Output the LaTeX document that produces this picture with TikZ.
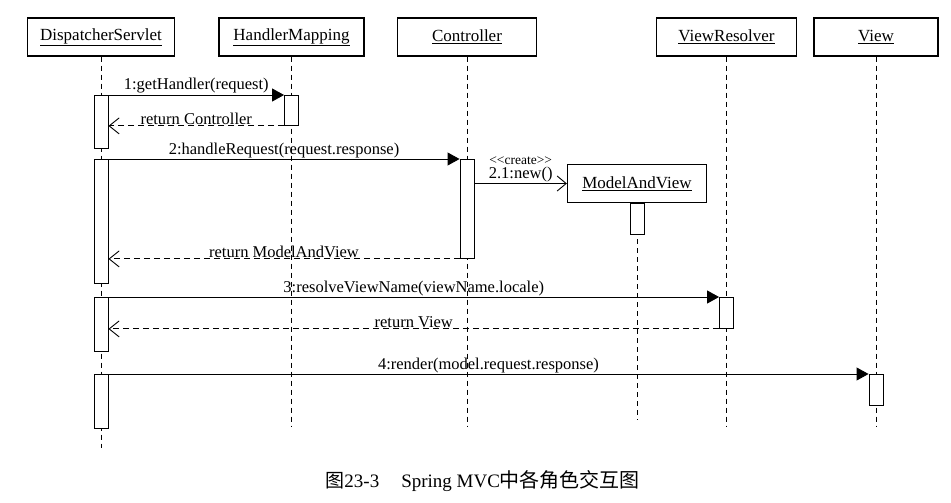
\documentclass[tikz,border=0pt]{standalone}
\usepackage{fontspec}
\setmainfont{Liberation Serif}
\newfontfamily\cjk{Noto Sans CJK SC}
\usetikzlibrary{positioning,arrows.meta}

\begin{document}
\begin{tikzpicture}[x=1pt, y=-1pt, line width=0.9pt, font=\fontsize{16.5}{18}\selectfont,
  obj/.style={draw, line width=1.3pt, minimum height=38pt, inner sep=0pt, font=\fontsize{17}{18}\selectfont},
  act/.style={draw, fill=white, minimum width=14pt, inner sep=0pt, anchor=north},
  life/.style={dash pattern=on 5pt off 4pt},
  call/.style={-{Triangle[length=12pt,width=13pt]}},
  ret/.style={dash pattern=on 6pt off 4pt, -{Straight Barb[length=10pt,width=16pt]}},
  newobj/.style={-{Straight Barb[length=9pt,width=15pt]}},
  msg/.style={above, inner sep=1pt}]
	\useasboundingbox (0,0) rectangle (951,503);
	% objects
	\node[obj, minimum width=147pt] (disp) at (101,37) {\underline{DispatcherServlet}};
	\node[obj, minimum width=145pt] (hmap) at (291.5,37) {\underline{HandlerMapping}};
	\node[obj, minimum width=139pt] (ctrl) at (467,37) {\underline{Controller}};
	\node[obj, minimum width=140pt] (vres) at (726.5,37) {\underline{ViewResolver}};
	\node[obj, minimum width=124pt] (view) at (876,37) {\underline{View}};
	\node[obj, minimum width=139pt] (mav) at (637,183.5) {\underline{ModelAndView}};
	% lifelines
	\coordinate (dispend) at (101,448);
	\coordinate (hmapend) at (291.5,427);
	\coordinate (ctrlend) at (467,427);
	\coordinate (vresend) at (726.5,427);
	\coordinate (viewend) at (876,427);
	\coordinate (mavend) at (637,420);
	\draw[life] (disp.south) -- (dispend);
	\draw[life] (hmap.south) -- (hmapend);
	\draw[life] (ctrl.south) -- (ctrlend);
	\draw[life] (vres.south) -- (vresend);
	\draw[life] (view.south) -- (viewend);
	\draw[life] (mav.south) -- (mavend);
	% activations
	\node[act, minimum height=53pt] (ds1) at (101,95) {};
	\node[act, minimum height=30pt] (hm1) at (291.5,95) {};
	\node[act, minimum height=124pt] (ds2) at (101,159) {};
	\node[act, minimum height=99pt] (ct1) at (467,159) {};
	\node[act, minimum height=31pt] (mv1) at (637,203) {};
	\node[act, minimum height=54pt] (ds3) at (101,297) {};
	\node[act, minimum height=31pt] (vr1) at (726.5,297) {};
	\node[act, minimum height=54pt] (ds4) at (101,374) {};
	\node[act, minimum height=31pt] (vw1) at (876,374) {};
	% messages
	\draw[call] (ds1.north east) -- node[msg] (m1) {1:getHandler(request)} (hm1.north west);
	\draw[ret] (hm1.south west) -- node[msg] (r1) {return Controller} (hm1.south west -| ds1.east);
	\draw[call] (ds2.north east) -- node[msg] (m2) {2:handleRequest(request.response)} (ct1.north west);
	\draw[newobj] (ct1.east |- mav.west) -- node[msg] (m21) {2.1:new()} (mav.west);
	\node[above=0pt of m21, inner sep=1pt, font=\fontsize{13.5}{14}\selectfont] (crt) {<\kern0pt<create>\kern0pt>};
	\draw[ret] (ct1.south west) -- node[msg] (r2) {return ModelAndView} (ct1.south west -| ds2.east);
	\draw[call] (ds3.north east) -- node[msg] (m3) {3:resolveViewName(viewName.locale)} (vr1.north west);
	\draw[ret] (vr1.south west) -- node[msg] (r3) {return View} (vr1.south west -| ds3.east);
	\draw[call] (ds4.north east) -- node[msg] (m4) {4:render(model.request.response)} (vw1.north west);
	% caption
	\node[anchor=west, inner sep=0pt, font=\fontsize{19}{20}\selectfont] (cap) at (325,481) {{\cjk\fontsize{19}{20}\selectfont 图}23-3\hspace{22pt}Spring MVC{\cjk\fontsize{20}{20}\selectfont 中各角色交互图}};
\end{tikzpicture}
\end{document}
